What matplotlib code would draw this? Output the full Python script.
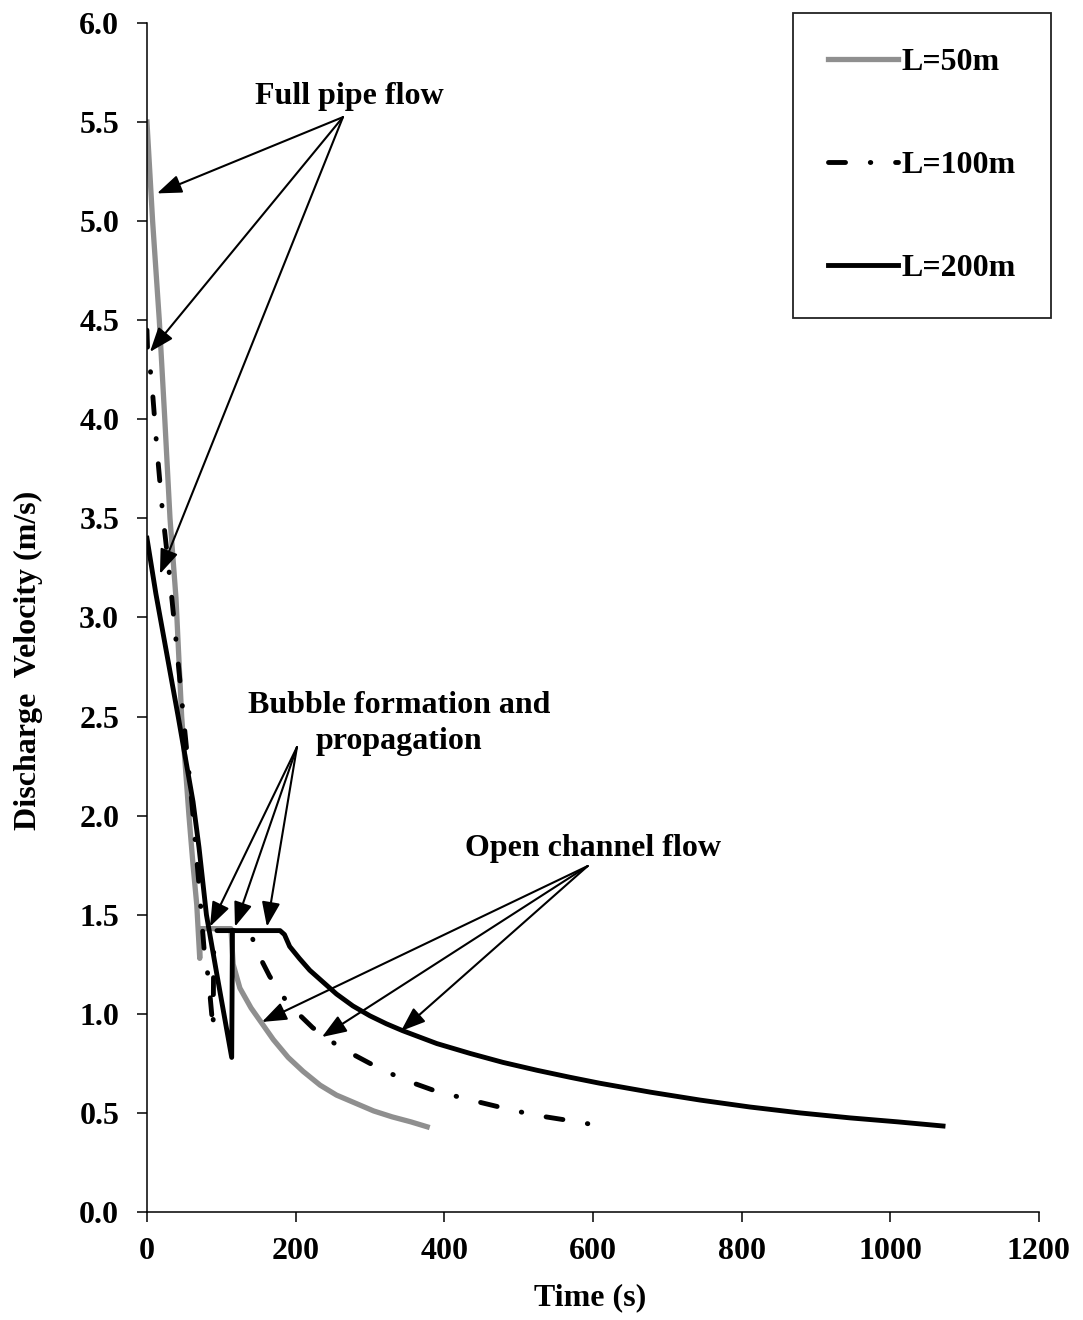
# Plot discharge velocity against time for three pipe lengths.
import matplotlib
matplotlib.use("Agg")
import matplotlib.pyplot as plt

# Use a bold Times-like serif for all text.
plt.rcParams['font.family'] = ['Liberation Serif', 'DejaVu Serif']
plt.rcParams['font.weight'] = 'bold'
plt.rcParams['font.size'] = 23

# Data: time (s) and discharge velocity (m/s).
t_50 = [0, 7.6, 16.6, 24, 31, 39, 46.7, 56.5, 62, 67, 71, 72, 113, 116, 125,
        140, 155, 170, 190, 210, 233, 255, 280, 305, 330, 355, 377]
v_50 = [5.5, 5.0, 4.5, 4.0, 3.5, 3.1, 2.5, 2.0, 1.75, 1.55, 1.28, 1.43, 1.43,
        1.25, 1.13, 1.03, 0.95, 0.87, 0.78, 0.71, 0.64, 0.59, 0.55, 0.51,
        0.48, 0.455, 0.43]

t_100 = [0, 1, 6, 13, 21, 31, 40, 49, 58, 62, 70, 77, 83, 89, 90, 138, 150,
         165, 190, 223, 260, 300, 344, 385, 430, 474, 520, 564, 618]
v_100 = [4.45, 4.33, 4.21, 3.87, 3.53, 3.19, 2.85, 2.5, 2.16, 2.0, 1.65, 1.32,
         1.17, 0.92, 1.42, 1.42, 1.30, 1.19, 1.05, 0.93, 0.83, 0.75, 0.67,
         0.615, 0.57, 0.53, 0.49, 0.464, 0.43]

t_200 = [0, 12, 42, 62, 70, 80, 94, 114, 115, 179, 185, 192, 205, 219, 237,
         255, 277, 300, 322, 344, 390, 435, 479, 525, 569, 609, 677, 744, 811,
         879, 946, 1010, 1071]
v_200 = [3.4, 3.12, 2.5, 2.07, 1.84, 1.5, 1.2, 0.78, 1.42, 1.42, 1.40, 1.34,
         1.28, 1.22, 1.16, 1.10, 1.04, 0.99, 0.95, 0.915, 0.85, 0.80, 0.755,
         0.715, 0.68, 0.65, 0.605, 0.565, 0.53, 0.50, 0.475, 0.455, 0.434]

series_labels = ['L=50m', 'L=100m', 'L=200m']
x_ticks = [0, 200, 400, 600, 800, 1000, 1200]
y_ticks = [0.0, 0.5, 1.0, 1.5, 2.0, 2.5, 3.0, 3.5, 4.0, 4.5, 5.0, 5.5, 6.0]

# Arrow targets for each annotation group.
full_pipe_targets = [(13.5, 5.14), (4.0, 4.34), (17.5, 3.22)]
bubble_targets = [(84.8, 1.44), (118.4, 1.44), (161.4, 1.44)]
open_channel_targets = [(154.7, 0.959), (235.4, 0.883), (341.7, 0.913)]

# Figure sized to 1083 x 1320 pixels.
fig = plt.figure(figsize=(10.83, 13.2), dpi=100)
ax = fig.add_axes([0.1357, 0.0818, 0.8236, 0.9008])

ax.plot(t_50, v_50, color='#8f8f8f', lw=3.8, solid_joinstyle='round',
        label=series_labels[0])
ax.plot(t_100, v_100, color='black', lw=3.5, linestyle=(0, (3.5, 5.1, 0.1, 5.1)),
        dash_capstyle='round', label=series_labels[1])
ax.plot(t_200, v_200, color='black', lw=3.5, solid_joinstyle='round',
        label=series_labels[2])

# Axes limits, ticks and spines.
ax.set_xlim(0, 1200)
ax.set_ylim(0, 6)
ax.set_xticks(x_ticks)
ax.set_yticks(y_ticks)
ax.set_yticklabels([f"{v:.1f}" for v in y_ticks])
ax.spines['top'].set_visible(False)
ax.spines['right'].set_visible(False)
for side in ['left', 'bottom']:
    ax.spines[side].set_linewidth(1.1)
ax.tick_params(axis='both', direction='out', length=7, width=1.1)
ax.tick_params(axis='y', pad=13)
ax.tick_params(axis='x', pad=11)

ax.set_xlabel('Time (s)', fontweight='bold')
ax.set_ylabel('Discharge  Velocity (m/s)', fontweight='bold')
ax.xaxis.set_label_coords(0.497, -0.06)
ax.yaxis.set_label_coords(-0.117, 0.464)

# Arrow style shared by all annotations.
arrow_props = dict(arrowstyle='-|>,head_length=0.75,head_width=0.28',
                   mutation_scale=20, lw=1.5, color='black',
                   shrinkA=0, shrinkB=0)

ax.text(271.8, 5.63, 'Full pipe flow', ha='center', va='center')
for target in full_pipe_targets:
    ax.annotate('', xy=target, xytext=(263.7, 5.525), arrowprops=arrow_props)

ax.text(338.8, 2.465, 'Bubble formation and\npropagation', ha='center',
        va='center', linespacing=1.35)
for target in bubble_targets:
    ax.annotate('', xy=target, xytext=(201.8, 2.346), arrowprops=arrow_props)

ax.text(600, 1.836, 'Open channel flow', ha='center', va='center')
for target in open_channel_targets:
    ax.annotate('', xy=target, xytext=(593, 1.746), arrowprops=arrow_props)

# Legend box placed in the top right corner of the figure.
leg = ax.legend(loc='upper left', bbox_to_anchor=(793 / 1083, 1 - 13 / 1320),
                bbox_transform=fig.transFigure, borderaxespad=0,
                handlelength=2.2, handletextpad=0.1, labelspacing=2.3,
                borderpad=1.1, fancybox=False, framealpha=1,
                edgecolor='#222222')
leg.get_frame().set_linewidth(1.3)

fig.savefig('out.png', dpi=100)
